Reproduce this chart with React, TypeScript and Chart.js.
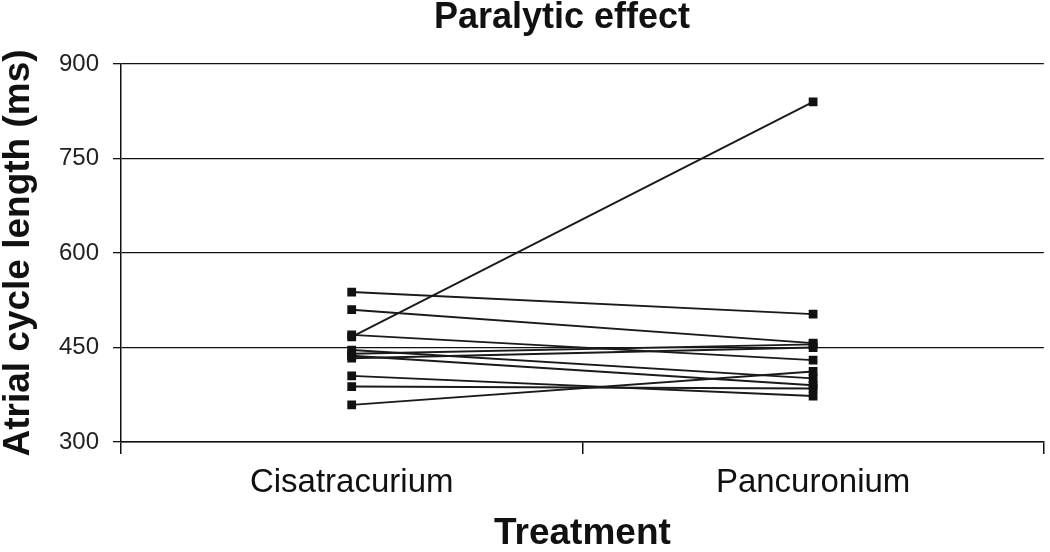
import React, { useEffect, useRef } from "react";
import { Chart, registerables } from "chart.js";

Chart.register(...registerables);

const categories = ["Cisatracurium", "Pancuronium"];
const cisatracurium = [538, 510, 470, 467, 446, 440, 437, 433, 405, 388, 359];
const pancuronium = [503, 457, 430, 840, 401, 455, 390, 450, 373, 385, 412];
const yTicks = [300, 450, 600, 750, 900];

const chartTitle = "Paralytic effect";
const xTitle = "Treatment";
const yTitle = "Atrial cycle length (ms)";
const FONT = "'Liberation Sans', Arial, sans-serif";

const titlePlugin = {
  id: "customTitle",
  afterDraw(chart: any) {
    const ctx = chart.ctx;
    ctx.save();
    ctx.font = `bold 36px ${FONT}`;
    ctx.fillStyle = "#111";
    ctx.textAlign = "center";
    ctx.textBaseline = "middle";
    ctx.fillText(chartTitle, 562, 18);
    ctx.restore();
  },
};

export default function App() {
  const ref = useRef<HTMLCanvasElement>(null);
  useEffect(() => {
    if (!ref.current) return;
    const datasets = cisatracurium.map((v, i) => ({
      label: `Patient ${i + 1}`,
      data: [v, pancuronium[i]],
      borderColor: "#1a1a1a",
      backgroundColor: "#111",
      borderWidth: 1.9,
      pointStyle: "rect" as const,
      pointRadius: 6.2,
      pointBorderWidth: 0,
      pointBackgroundColor: "#111",
      tension: 0,
    }));
    const chart = new Chart(ref.current, {
      type: "line",
      data: { labels: categories, datasets },
      plugins: [titlePlugin],
      options: {
        animation: false,
        responsive: false,
        maintainAspectRatio: false,
        layout: { padding: { top: 64, right: 4, left: 0, bottom: 0 } },
        plugins: {
          legend: { display: false },
          title: { display: false },
          tooltip: { enabled: false },
        },
        scales: {
          x: {
            type: "category",
            offset: true,
            grid: {
              offset: true,
              drawOnChartArea: false,
              drawTicks: true,
              tickLength: 12,
              color: "#111",
              lineWidth: 1.5,
            },
            border: { color: "#111", width: 1.5 },
            ticks: {
              color: "#111",
              font: { family: FONT, size: 33 },
              padding: 9,
              maxRotation: 0,
            },
            title: {
              display: true,
              text: xTitle,
              color: "#111",
              font: { family: FONT, size: 37, weight: "bold", lineHeight: 1.0 },
              padding: { top: 0, bottom: 0 },
            },
            afterFit(scale: any) {
              scale.height = 110;
            },
          },
          y: {
            min: 300,
            max: 900,
            afterBuildTicks(scale: any) {
              scale.ticks = yTicks.map((v) => ({ value: v }));
            },
            grid: {
              color: "#111",
              lineWidth: 1.3,
              drawTicks: true,
              tickLength: 8,
            },
            border: { color: "#111", width: 1.5 },
            ticks: {
              color: "#222",
              font: { family: FONT, size: 24 },
              padding: 14,
            },
            title: {
              display: true,
              text: yTitle,
              color: "#111",
              font: { family: FONT, size: 37, weight: "bold", lineHeight: 1.0 },
              padding: { top: 0, bottom: 0 },
            },
            afterFit(scale: any) {
              scale.width = 121;
            },
          },
        },
      },
    });
    return () => chart.destroy();
  }, []);
  return (
    <div style={{ position: "fixed", left: 0, top: 0, width: 1050, height: 552, background: "#fff" }}>
      <canvas ref={ref} width={1050} height={552} style={{ width: 1050, height: 552 }} />
    </div>
  );
}
